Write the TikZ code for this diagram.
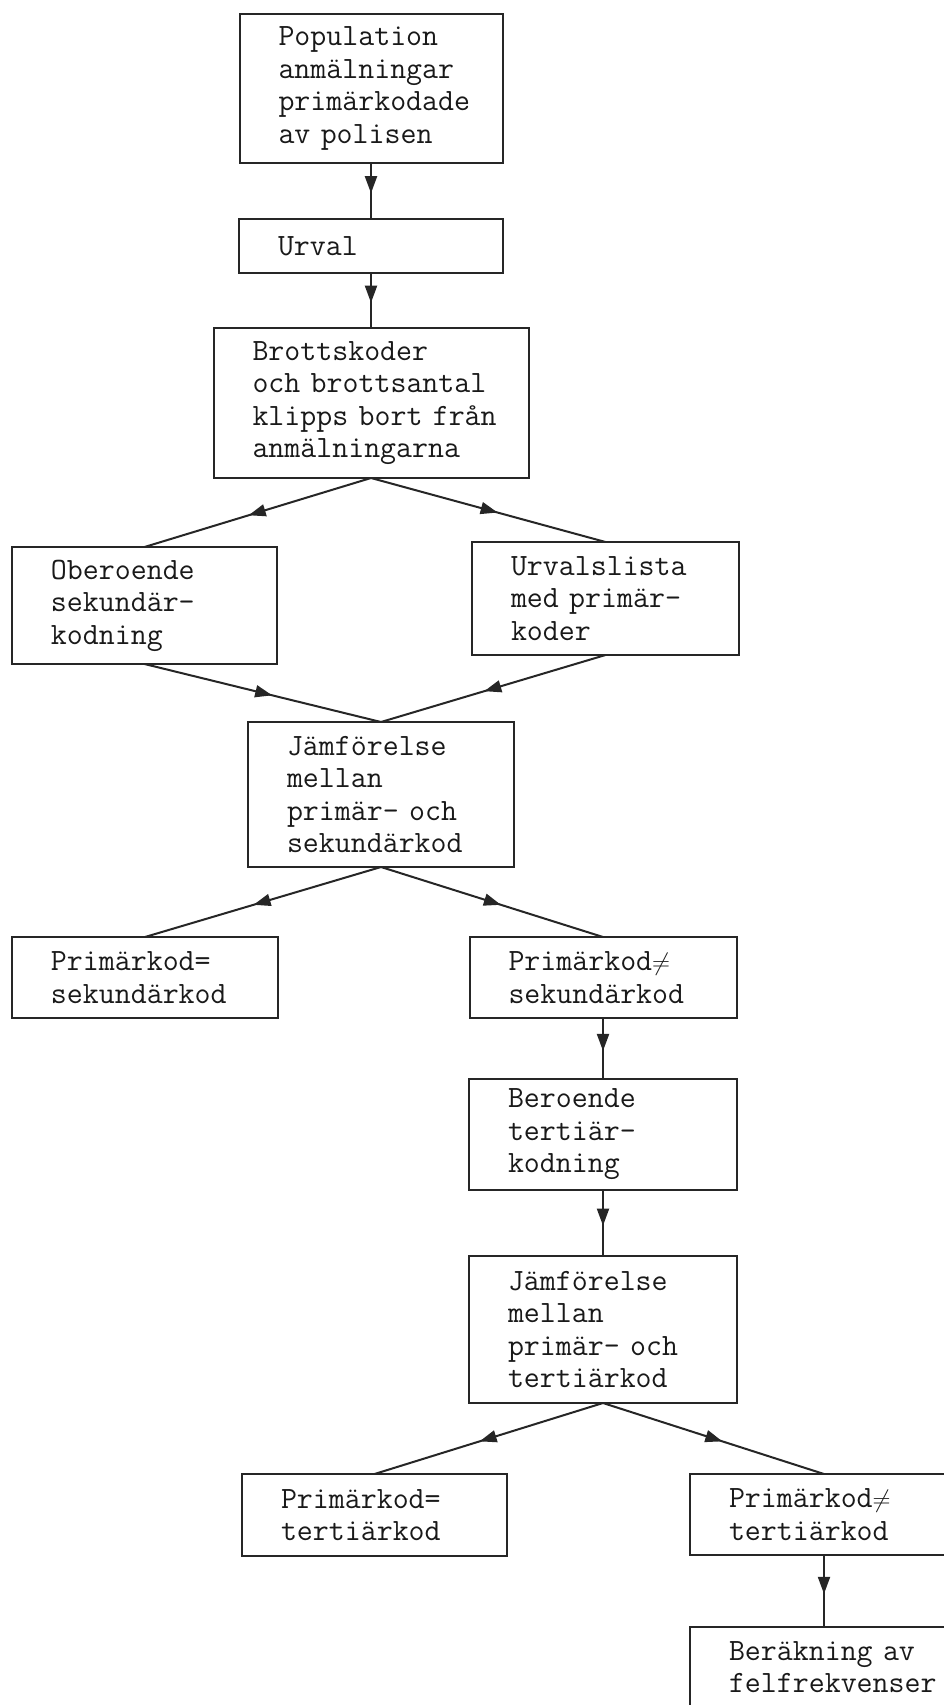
\documentclass[tikz,border=0pt]{standalone}
\usepackage{amsmath,amssymb}
\usepackage{tikz}
\usetikzlibrary{positioning,arrows.meta,decorations.markings}

\tikzset{
	box/.style={draw=black!85, line width=2pt, rectangle, inner xsep=0pt, inner ysep=4pt, outer sep=0pt,
		text width=#1, align=left, text=black!90,
		font=\fontsize{31}{32.5}\selectfont\ttfamily,
		execute at begin node={\leftskip=39pt\relax}},
	box/.default=266pt,
	flow/.style={draw=black!85, line width=2pt, postaction={decorate},
		decoration={markings, mark=at position 0.54 with {\arrow{Triangle[length=17pt,width=12pt]}}}},
}
\newcommand{\pil}[2]{\draw[flow] (#1.south) -- (#2.north);}

\begin{document}
\begin{tikzpicture}[x=1pt, y=1pt]
	\useasboundingbox (0,0) rectangle (944,-1705);

	%% POPULATION OCH URVAL
	\node[box=263pt, minimum height=149pt](pop) at (371,-88.5){Population\\anmälningar\\primärkodade\\av polisen};
	\node[box=264pt, minimum height=54pt, below=56pt of pop](urval){Urval};
	\node[box=315pt, minimum height=150pt, below=55pt of urval](brott_kod){Brottskoder\\och brottsantal\\klipps bort från\\anmälningarna};

	\pil{pop}{urval}
	\pil{urval}{brott_kod}

	%% SEKUNDÄRKODNING
	\node[box=265pt, minimum height=117pt, below=69pt of brott_kod, xshift=-226.5pt](sek_kod){Oberoende\\sekundär-\\kodning};
	\node[box=267pt, minimum height=113pt, below=64pt of brott_kod, xshift=234.5pt](urval_lista){Urvalslista\\med primär-\\koder};

	\pil{brott_kod}{sek_kod}
	\pil{brott_kod}{urval_lista}

	%% JÄMFÖRELSE PRIMÄR/SEKUNDÄR
	\node[box, minimum height=145pt, below=58pt of sek_kod, xshift=236.5pt](jmf_sek){Jämförelse\\mellan\\primär- och\\sekundärkod};
	\node[box, minimum height=81pt, below=70pt of jmf_sek, xshift=-236pt](lika_sek){Primärkod=\\sekundärkod};
	\node[box=267pt, minimum height=81pt, below=70pt of jmf_sek, xshift=222pt](olika_sek){Primärkod$\neq$\\sekundärkod};

	\pil{sek_kod}{jmf_sek}
	\pil{urval_lista}{jmf_sek}
	\pil{jmf_sek}{lika_sek}
	\pil{jmf_sek}{olika_sek}

	%% TERTIÄRKODNING
	\node[box=268pt, minimum height=111pt, below=61pt of olika_sek](ter_kod){Beroende\\tertiär-\\kodning};
	\node[box=268pt, minimum height=147pt, below=66pt of ter_kod](jmf_ter){Jämförelse\\mellan\\primär- och\\tertiärkod};
	\node[box=265pt, minimum height=82pt, below=71pt of jmf_ter, xshift=-228.5pt](lika_ter){Primärkod=\\tertiärkod};
	\node[box=268pt, minimum height=81pt, below=71pt of jmf_ter, xshift=221pt](olika_ter){Primärkod$\neq$\\tertiärkod};
	\node[box=268pt, minimum height=80pt, below=72pt of olika_ter](felfrek){Beräkning av\\felfrekvenser};

	\pil{olika_sek}{ter_kod}
	\pil{ter_kod}{jmf_ter}
	\pil{jmf_ter}{lika_ter}
	\pil{jmf_ter}{olika_ter}
	\pil{olika_ter}{felfrek}

\end{tikzpicture}
\end{document}
